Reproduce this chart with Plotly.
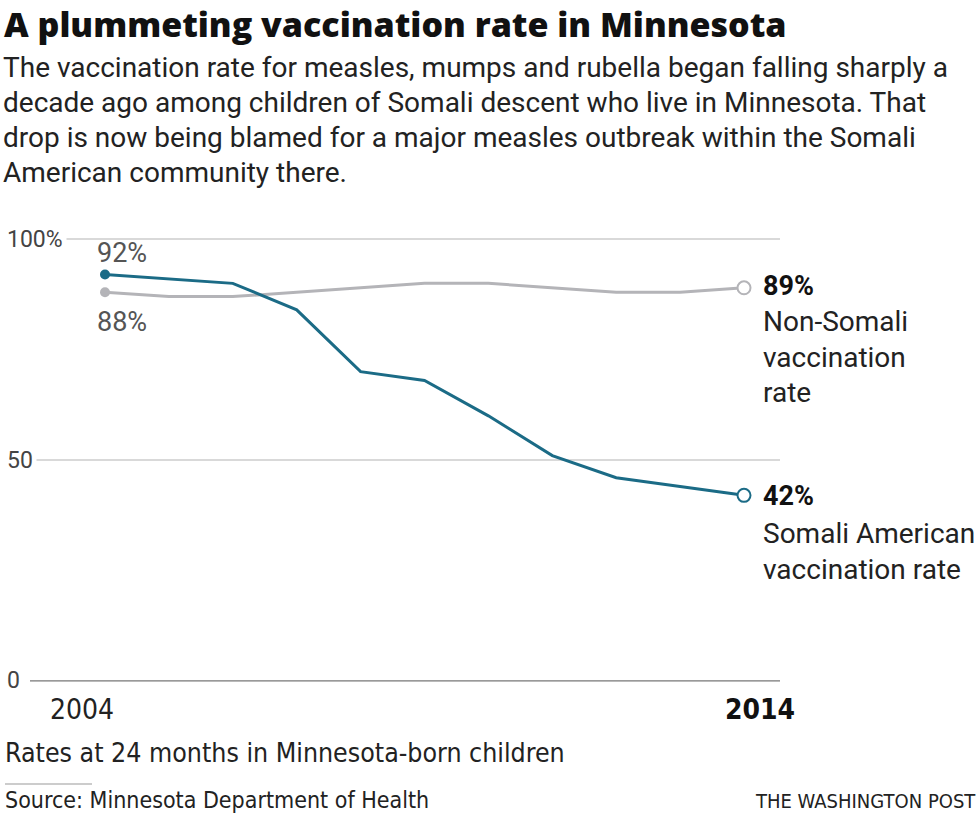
import plotly.graph_objects as go

years = [2004, 2005, 2006, 2007, 2008, 2009, 2010, 2011, 2012, 2013, 2014]
somali = [92, 91, 90, 84, 70, 68, 60, 51, 46, 44, 42]
non_somali = [88, 87, 87, 88, 89, 90, 90, 89, 88, 88, 89]
y_ticks = [0, 50, 100]
y_tick_labels = ["0", "50", "100%"]
x_tick_years = [2004, 2014]

TEAL = "#1b6b86"
GRAY = "#b4b4b8"
FONT = "Roboto, Liberation Sans, sans-serif"
TITLE_FONT = "Open Sans, Roboto, sans-serif"
NARROW = "Liberation Sans Narrow, DejaVu Sans Condensed, Roboto, sans-serif"

W, H = 980, 820
L, R = 30, 780          # plot area left/right px
T, B = 237, 683         # plot area top/bottom px


def px(x):
    return (x - L) / (R - L)


def py(y):
    return (B - y) / (B - T)


# x-range so that 2004 sits at 105px and 2014 at 744px
per_year = (744 - 105) / 10.0
x0 = 2004 - (105 - L) / per_year
x1 = 2014 + (R - 744) / per_year

fig = go.Figure()
fig.add_trace(go.Scatter(x=years, y=non_somali, mode="lines",
                         line=dict(color=GRAY, width=3), hoverinfo="skip"))
fig.add_trace(go.Scatter(x=years, y=somali, mode="lines",
                         line=dict(color=TEAL, width=3), hoverinfo="skip"))
# start dots
fig.add_trace(go.Scatter(x=[years[0]], y=[non_somali[0]], mode="markers",
                         marker=dict(color=GRAY, size=10)))
fig.add_trace(go.Scatter(x=[years[0]], y=[somali[0]], mode="markers",
                         marker=dict(color=TEAL, size=10)))
# end open circles
fig.add_trace(go.Scatter(x=[years[-1]], y=[non_somali[-1]], mode="markers",
                         marker=dict(color="white", size=13,
                                     line=dict(color=GRAY, width=2))))
fig.add_trace(go.Scatter(x=[years[-1]], y=[somali[-1]], mode="markers",
                         marker=dict(color="white", size=13,
                                     line=dict(color=TEAL, width=2))))

ann = []

# title & subtitle
ann.append(dict(text="A plummeting vaccination rate in Minnesota",
                x=px(3), y=py(0), xref="paper", yref="paper",
                xanchor="left", yanchor="top", showarrow=False,
                borderpad=0,
                font=dict(family=TITLE_FONT, size=34, color="#111",
                          weight=800)))
sub_lines = [
    "The vaccination rate for measles, mumps and rubella began falling sharply a",
    "decade ago among children of Somali descent who live in Minnesota. That",
    "drop is now being blamed for a major measles outbreak within the Somali",
    "American community there.",
]
for i, s in enumerate(sub_lines):
    ann.append(dict(text=s, x=px(1), y=py(67 + 35.3 * i), xref="paper",
                    yref="paper", xanchor="left", yanchor="middle",
                    showarrow=False,
                    font=dict(family=FONT, size=28, color="#222")))

# y tick labels with white background to break the gridlines
for v, lab in zip(y_ticks, y_tick_labels):
    ann.append(dict(text=lab, x=px(3), y=v, xref="paper", yref="y",
                    xanchor="left", yanchor="middle", showarrow=False,
                    bgcolor="white", borderpad=3,
                    font=dict(family=FONT, size=23, color="#444")))

# x tick labels
ann.append(dict(text=str(x_tick_years[0]), x=x_tick_years[0], y=py(709),
                xref="x", yref="paper", xanchor="center", yanchor="middle",
                xshift=-23, showarrow=False,
                font=dict(family=NARROW, size=28, color="#222")))
ann.append(dict(text="<b>%d</b>" % x_tick_years[1], x=x_tick_years[1],
                y=py(709), xref="x", yref="paper", xanchor="center",
                yanchor="middle", xshift=16, showarrow=False,
                font=dict(family=NARROW, size=28, color="#111")))

# start value labels
ann.append(dict(text="%d%%" % somali[0], x=years[0], y=somali[0],
                xref="x", yref="y", xanchor="left", yanchor="middle",
                xshift=-10, yshift=22, showarrow=False,
                font=dict(family=FONT, size=27, color="#555")))
ann.append(dict(text="%d%%" % non_somali[0], x=years[0], y=non_somali[0],
                xref="x", yref="y", xanchor="left", yanchor="middle",
                xshift=-10, yshift=-30, showarrow=False,
                font=dict(family=FONT, size=27, color="#555")))

# end labels
end_lines_ns = ["Non-Somali", "vaccination", "rate"]
end_lines_s = ["Somali American", "vaccination rate"]
ann.append(dict(text="<b>%d%%</b>" % non_somali[-1], x=years[-1],
                y=non_somali[-1], xref="x", yref="y", xanchor="left",
                yanchor="middle", xshift=17, yshift=2, showarrow=False,
                font=dict(family=FONT, size=27, color="#111")))
for i, s in enumerate(end_lines_ns):
    ann.append(dict(text=s, x=years[-1], y=non_somali[-1], xref="x",
                    yref="y", xanchor="left", yanchor="middle", xshift=17,
                    yshift=-34 - 35.5 * i, showarrow=False,
                    font=dict(family=FONT, size=28, color="#222")))
ann.append(dict(text="<b>%d%%</b>" % somali[-1], x=years[-1],
                y=somali[-1], xref="x", yref="y", xanchor="left",
                yanchor="middle", xshift=17, yshift=-1, showarrow=False,
                font=dict(family=FONT, size=27, color="#111")))
for i, s in enumerate(end_lines_s):
    ann.append(dict(text=s, x=years[-1], y=somali[-1], xref="x",
                    yref="y", xanchor="left", yanchor="middle", xshift=17,
                    yshift=-38 - 36 * i, showarrow=False,
                    font=dict(family=FONT, size=28, color="#222")))

# footer
ann.append(dict(text="Rates at 24 months in Minnesota-born children",
                x=px(3), y=py(752), xref="paper", yref="paper",
                xanchor="left", yanchor="middle", showarrow=False,
                font=dict(family=NARROW, size=26.5, color="#222")))
ann.append(dict(text="Source: Minnesota Department of Health",
                x=px(3), y=py(800), xref="paper", yref="paper",
                xanchor="left", yanchor="middle", showarrow=False,
                font=dict(family=NARROW, size=23, color="#222")))
ann.append(dict(text="THE WASHINGTON POST",
                x=px(978), y=py(801), xref="paper", yref="paper",
                xanchor="right", yanchor="middle", showarrow=False,
                font=dict(family=NARROW, size=20, color="#222")))

shapes = [
    dict(type="line", xref="paper", yref="paper", x0=px(5), x1=px(92),
         y0=py(784), y1=py(784), line=dict(color="#cccccc", width=2)),
    dict(type="line", xref="paper", yref="y", x0=0, x1=1, y0=0, y1=0,
         line=dict(color="#999999", width=1.5)),
]

fig.update_layout(
    width=W, height=H,
    margin=dict(l=L, r=W - R, t=T, b=H - B),
    paper_bgcolor="white", plot_bgcolor="white",
    showlegend=False,
    xaxis=dict(range=[x0, x1], showgrid=False, zeroline=False,
               showticklabels=False, ticks="", fixedrange=True),
    yaxis=dict(range=[-0.5, 100.5], tickvals=y_ticks, showticklabels=False,
               showgrid=True, gridcolor="#d9d9d9", gridwidth=1.5,
               zeroline=False, ticks="", fixedrange=True),
    annotations=ann,
    shapes=shapes,
)

fig.write_html("out.html",
               config={"displayModeBar": False},
               post_script="document.body.style.margin='0px';")
